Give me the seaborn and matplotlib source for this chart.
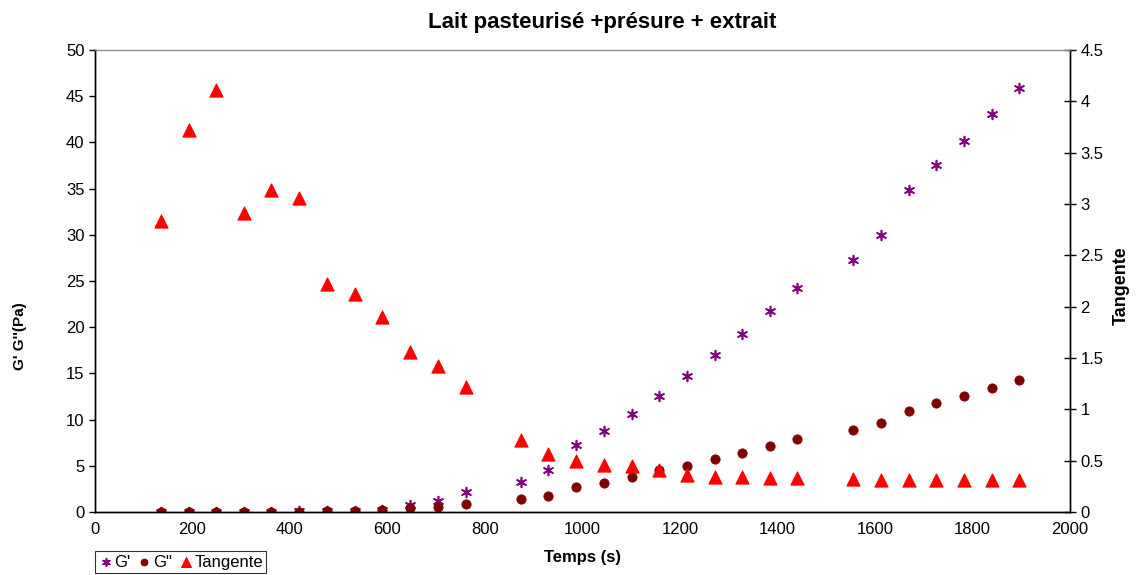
import matplotlib
matplotlib.use("Agg")
import matplotlib.pyplot as plt
import pandas as pd
import seaborn as sns

# time points (s)
temps = [135, 192, 249, 305, 362, 419, 476, 533, 589, 646, 703, 760,
         874, 930, 987, 1044, 1101, 1157, 1214, 1271, 1328, 1385, 1441,
         1555, 1612, 1669, 1725, 1782, 1839, 1896]

g_prime = [0.02, 0.03, 0.03, 0.04, 0.05, 0.07, 0.1, 0.15, 0.25, 0.76, 1.22, 2.13,
           3.28, 4.55, 7.29, 8.8, 10.64, 12.55, 14.7, 17.0, 19.3, 21.75, 24.2,
           27.3, 30.0, 34.8, 37.55, 40.2, 43.1, 45.85]

g_second = [0.02, 0.02, 0.03, 0.03, 0.04, 0.05, 0.07, 0.1, 0.2, 0.4, 0.57, 0.87,
            1.37, 1.77, 2.67, 3.17, 3.75, 4.5, 5.0, 5.7, 6.42, 7.14, 7.87,
            8.87, 9.6, 10.96, 11.83, 12.55, 13.45, 14.29]

tangente = [2.83, 3.72, 4.11, 2.91, 3.14, 3.06, 2.22, 2.12, 1.90, 1.56, 1.42, 1.22,
            0.70, 0.565, 0.497, 0.458, 0.445, 0.409, 0.36, 0.344, 0.338, 0.335, 0.328,
            0.318, 0.315, 0.315, 0.31, 0.31, 0.31, 0.31]

df = pd.DataFrame({"temps": temps, "gp": g_prime, "gs": g_second, "tan": tangente})

sns.set_style("white")
plt.rcParams["font.family"] = ["Liberation Sans", "DejaVu Sans"]
plt.rcParams["text.color"] = "black"
plt.rcParams["xtick.color"] = "black"
plt.rcParams["ytick.color"] = "black"
plt.rcParams["axes.labelcolor"] = "black"

fig = plt.figure(figsize=(11.36, 5.75), dpi=100)
ax = fig.add_axes([95 / 1136, 1 - 512 / 575, (1070 - 95) / 1136, (512 - 50) / 575])
ax2 = ax.twinx()

star = (6, 2, 0)
sns.scatterplot(data=df, x="temps", y="gp", ax=ax, marker=star, s=50,
                color="#800080", edgecolor="#800080", linewidth=1.2, label="G'", legend=False)
sns.scatterplot(data=df, x="temps", y="gs", ax=ax, marker="o", s=45,
                color="#800000", edgecolor="#800000", label='G"', legend=False)
sns.scatterplot(data=df, x="temps", y="tan", ax=ax2, marker="^", s=90,
                color="#FF0000", edgecolor="#FF0000", label="Tangente", legend=False)

ax.set_xlim(0, 2000)
ax.set_ylim(0, 50)
ax2.set_ylim(0, 4.5)
ax.set_xticks(range(0, 2001, 200))
ax.set_yticks(range(0, 51, 5))
ax2.set_yticks([i * 0.5 for i in range(10)])
ax2.set_yticklabels(["0", "0.5", "1", "1.5", "2", "2.5", "3", "3.5", "4", "4.5"])

for a in (ax, ax2):
    for side in ("left", "bottom", "right"):
        a.spines[side].set_color("black")
        a.spines[side].set_linewidth(1.0)
    a.spines["top"].set_color("#808080")
ax.tick_params(axis="both", direction="out", length=4, width=1, labelsize=12)
ax2.tick_params(axis="y", direction="inout", length=8, width=1, labelsize=12)

ax.set_xlabel("Temps (s)", fontsize=12, fontweight="bold", labelpad=9)
ax.set_ylabel("G' G''(Pa)", fontsize=11, fontweight="bold")
ax.yaxis.set_label_coords(-0.070, 0.381)
ax2.set_ylabel("Tangente", fontsize=13, fontweight="bold")
ax2.yaxis.set_label_coords(1.044, 0.491)
ax.set_title("Lait pasteurisé +présure + extrait", fontsize=16, fontweight="bold",
             pad=16, x=0.52)

h1, l1 = ax.get_legend_handles_labels()
h2, l2 = ax2.get_legend_handles_labels()
leg = fig.legend(h1 + h2, l1 + l2, loc="lower left", bbox_to_anchor=(95 / 1136, 2 / 575),
                 ncol=3, fontsize=12, frameon=True, fancybox=False, edgecolor="black",
                 handletextpad=0.05, columnspacing=0.4, borderpad=0.2, handlelength=0.9,
                 borderaxespad=0, markerscale=0.75)
leg.get_frame().set_linewidth(0.8)

fig.savefig("out.png", dpi=100)
